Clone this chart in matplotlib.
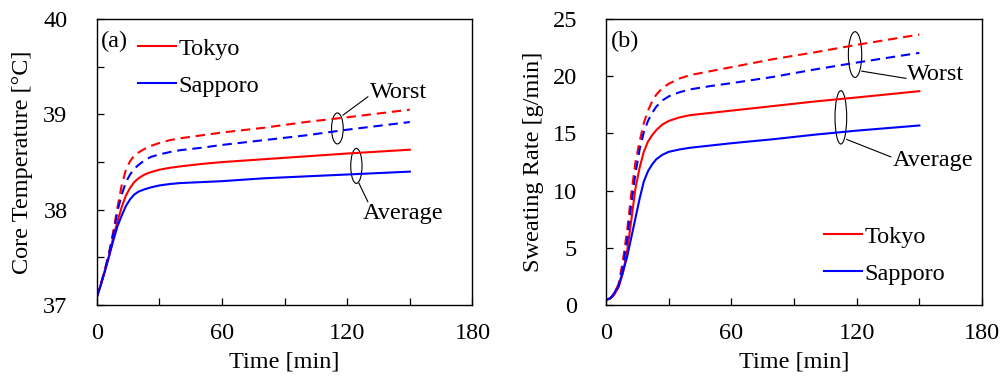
import matplotlib
matplotlib.use('Agg')
import matplotlib.pyplot as plt
from matplotlib.patches import Ellipse
from matplotlib.ticker import MultipleLocator

plt.rcParams['font.family'] = ['Liberation Serif', 'DejaVu Serif']
plt.rcParams['font.size'] = 17.5

# ---- time axis [min] ----
t = [0, 2, 4, 6, 8, 10, 12, 14, 16, 18, 20, 23, 26, 30, 35, 40, 50, 60, 80, 100, 120, 150]

# ---- core temperature [degC] ----
core_tokyo_avg = [37.08, 37.22, 37.37, 37.52, 37.72, 37.88, 38.03, 38.15, 38.23, 38.29, 38.33,
                  38.37, 38.395, 38.42, 38.44, 38.455, 38.48, 38.50, 38.53, 38.56, 38.59, 38.63]
core_sapporo_avg = [37.08, 37.21, 37.36, 37.52, 37.68, 37.83, 37.94, 38.04, 38.11, 38.16, 38.19,
                    38.215, 38.235, 38.255, 38.27, 38.28, 38.29, 38.30, 38.33, 38.35, 38.37, 38.40]
core_tokyo_worst = [37.08, 37.22, 37.38, 37.56, 37.78, 38.03, 38.26, 38.42, 38.51, 38.57, 38.60,
                    38.64, 38.67, 38.70, 38.73, 38.75, 38.78, 38.81, 38.86, 38.92, 38.97, 39.05]
core_sapporo_worst = [37.08, 37.22, 37.37, 37.55, 37.75, 37.99, 38.16, 38.29, 38.37, 38.43, 38.47,
                      38.52, 38.555, 38.58, 38.605, 38.625, 38.65, 38.68, 38.73, 38.78, 38.84, 38.92]

# ---- sweating rate [g/min] ----
t2 = [0, 2, 4, 6, 8, 10, 12, 14, 16, 18, 20, 22, 24, 27, 30, 35, 40, 50, 60, 80, 100, 120, 150]
sw_tokyo_avg = [0.45, 0.6, 0.95, 1.6, 2.8, 4.7, 7.4, 10.2, 12.0, 13.4, 14.3, 14.85, 15.3, 15.8,
                16.1, 16.4, 16.6, 16.8, 17.0, 17.4, 17.8, 18.15, 18.7]
sw_sapporo_avg = [0.45, 0.6, 1.1, 1.8, 2.9, 4.2, 5.9, 7.6, 9.3, 10.8, 11.7, 12.3, 12.75, 13.15,
                  13.4, 13.6, 13.75, 13.95, 14.15, 14.5, 14.9, 15.25, 15.7]
sw_tokyo_worst = [0.45, 0.6, 1.0, 1.9, 3.9, 6.5, 9.7, 12.5, 14.3, 15.9, 17.0, 17.8, 18.4, 19.0,
                  19.35, 19.8, 20.1, 20.45, 20.8, 21.5, 22.1, 22.75, 23.65]
sw_sapporo_worst = [0.45, 0.6, 0.95, 1.7, 3.4, 5.7, 8.8, 11.5, 13.6, 15.1, 16.1, 16.8, 17.35, 17.9,
                    18.25, 18.6, 18.85, 19.15, 19.4, 19.95, 20.6, 21.2, 22.05]

RED = '#ff0000'
BLUE = '#0000ff'
LW = 1.5
DASH = (0, (4.5, 2.8))

fig = plt.figure(figsize=(10.02, 3.79), dpi=100)
ax1 = fig.add_axes([0.0965, 0.195, 0.375, 0.7546])
ax2 = fig.add_axes([0.605, 0.195, 0.375, 0.7546])


def style_axis(ax):
    ax.set_xlim(0, 180)
    ax.xaxis.set_major_locator(MultipleLocator(60))
    ax.xaxis.set_minor_locator(MultipleLocator(30))
    ax.tick_params(which='both', direction='in', length=5, width=0.9)
    ax.tick_params(axis='x', which='major', pad=13)
    ax.tick_params(axis='y', which='major', pad=21)
    for s in ax.spines.values():
        s.set_linewidth(1.0)
    ax.set_xlabel('Time [min]', labelpad=5)


# (a) core temperature
l1, = ax1.plot(t, core_tokyo_avg, color=RED, lw=LW, label='Tokyo')
l2, = ax1.plot(t, core_sapporo_avg, color=BLUE, lw=LW, label='Sapporo')
ax1.plot(t, core_tokyo_worst, color=RED, lw=LW, ls=DASH)
ax1.plot(t, core_sapporo_worst, color=BLUE, lw=LW, ls=DASH)
style_axis(ax1)
ax1.set_ylim(37, 40)
ax1.yaxis.set_major_locator(MultipleLocator(1))
ax1.yaxis.set_minor_locator(MultipleLocator(0.5))
ax1.set_ylabel('Core Temperature [\u00b0C]', labelpad=7)
ax1.text(0.012, 0.96, '(a)', transform=ax1.transAxes, ha='left', va='top')
ax1.legend(handles=[l1, l2], loc='upper left', bbox_to_anchor=(0.065, 0.995), frameon=False,
           handlelength=1.55, handletextpad=0.12, labelspacing=0.62, borderaxespad=0.3)

ax1.add_patch(Ellipse((115.3, 38.853), 5.6, 0.325, fill=False, lw=0.8, ec='black'))
ax1.plot([118.0, 129.9], [38.993, 39.185], color='black', lw=0.8)
ax1.text(130.8, 39.23, 'Worst', ha='left', va='center')
ax1.add_patch(Ellipse((124.4, 38.46), 5.4, 0.367, fill=False, lw=0.8, ec='black'))
ax1.plot([125.6, 129.9], [38.28, 38.084], color='black', lw=0.8)
ax1.text(127.6, 37.96, 'Average', ha='left', va='center')

# (b) sweating rate
r1, = ax2.plot(t2, sw_tokyo_avg, color=RED, lw=LW, label='Tokyo')
r2, = ax2.plot(t2, sw_sapporo_avg, color=BLUE, lw=LW, label='Sapporo')
ax2.plot(t2, sw_tokyo_worst, color=RED, lw=LW, ls=DASH)
ax2.plot(t2, sw_sapporo_worst, color=BLUE, lw=LW, ls=DASH)
style_axis(ax2)
ax2.set_ylim(0, 25)
ax2.yaxis.set_major_locator(MultipleLocator(5))
ax2.set_ylabel('Sweating Rate [g/min]', labelpad=6)
ax2.text(0.012, 0.96, '(b)', transform=ax2.transAxes, ha='left', va='top')
ax2.legend(handles=[r1, r2], loc='lower left', bbox_to_anchor=(0.535, 0.012), frameon=False,
           handlelength=1.55, handletextpad=0.12, labelspacing=0.62, borderaxespad=0.3)

ax2.add_patch(Ellipse((119.2, 21.9), 6.4, 4.0, fill=False, lw=0.8, ec='black'))
ax2.plot([122.4, 143.6], [20.45, 19.82], color='black', lw=0.8)
ax2.text(144.1, 20.2, 'Worst', ha='left', va='center')
ax2.add_patch(Ellipse((112.4, 16.41), 5.6, 4.66, fill=False, lw=0.8, ec='black'))
ax2.plot([115.2, 136.3], [14.48, 12.96], color='black', lw=0.8)
ax2.text(137.4, 12.6, 'Average', ha='left', va='center')

fig.savefig('out.png', dpi=100)
